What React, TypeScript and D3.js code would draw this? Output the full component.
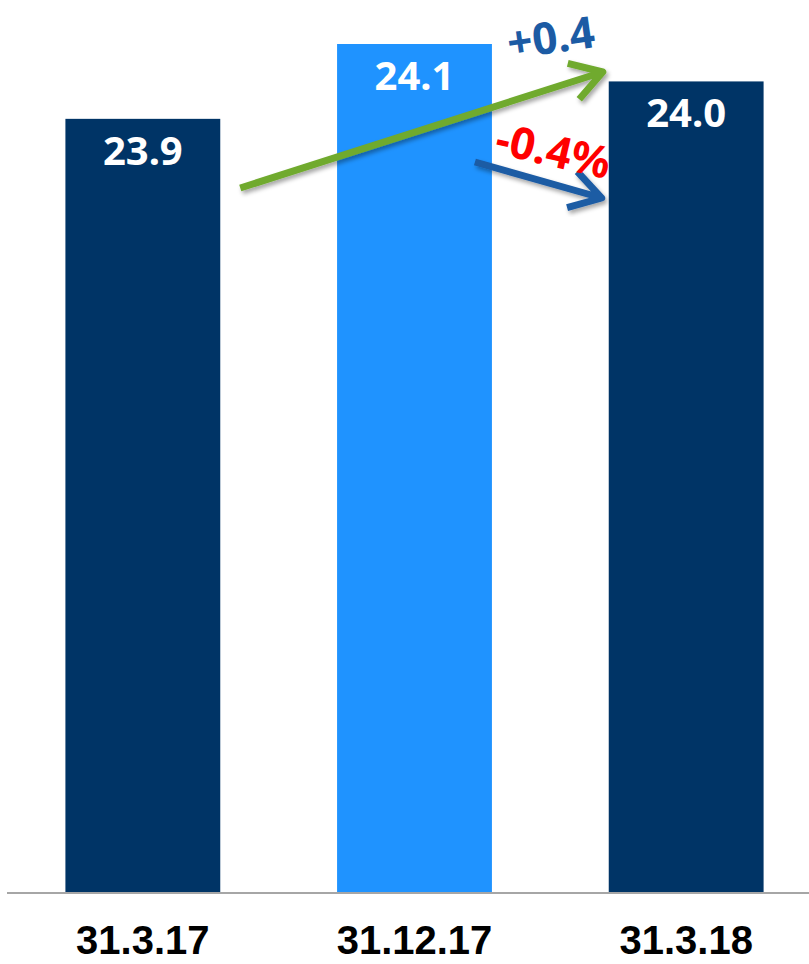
import { useEffect, useRef } from "react";
import * as d3 from "d3";

const categories = ["31.3.17", "31.12.17", "31.3.18"];
const values = [23.9, 24.1, 24.0];
const valueLabels = ["23.9", "24.1", "24.0"];
const barColors = ["#003466", "#1F93FF", "#003466"];

export default function App() {
  const svgRef = useRef<SVGSVGElement>(null);

  useEffect(() => {
    if (!svgRef.current) return;
    const width = 809;
    const height = 964;
    const baseY = 892;

    const svg = d3.select(svgRef.current);
    svg.selectAll("*").remove();
    svg.attr("viewBox", `0 0 ${width} ${height}`);

    const defs = svg.append("defs");
    defs
      .append("filter")
      .attr("id", "shadow")
      .attr("x", "-20%")
      .attr("y", "-20%")
      .attr("width", "140%")
      .attr("height", "140%")
      .append("feDropShadow")
      .attr("dx", 2)
      .attr("dy", 3)
      .attr("stdDeviation", 2)
      .attr("flood-color", "#000")
      .attr("flood-opacity", 0.35);

    const x = d3
      .scaleBand<string>()
      .domain(categories)
      .range([7, 822])
      .paddingInner(0.43)
      .paddingOuter(0.215);

    // truncated value axis (bars don't start at zero)
    const y = d3.scaleLinear().domain([21.834, 24.1]).range([baseY, 44]);

    svg
      .selectAll("rect.bar")
      .data(values)
      .enter()
      .append("rect")
      .attr("class", "bar")
      .attr("x", (_, i) => x(categories[i])!)
      .attr("width", x.bandwidth())
      .attr("y", (d) => y(d))
      .attr("height", (d) => baseY - y(d))
      .attr("fill", (_, i) => barColors[i]);

    svg
      .append("line")
      .attr("x1", 7)
      .attr("x2", width)
      .attr("y1", baseY + 1)
      .attr("y2", baseY + 1)
      .attr("stroke", "#A6A6A6")
      .attr("stroke-width", 2);

    svg
      .selectAll("text.val")
      .data(values)
      .enter()
      .append("text")
      .attr("class", "val")
      .attr("x", (_, i) => x(categories[i])! + x.bandwidth() / 2)
      .attr("y", (d) => y(d) + 46)
      .attr("text-anchor", "middle")
      .attr("fill", "#fff")
      .attr("font-family", "'Noto Sans', 'Open Sans', sans-serif")
      .attr("font-weight", "bold")
      .attr("font-size", 40)
      .text((_, i) => valueLabels[i]);

    svg
      .selectAll("text.cat")
      .data(categories)
      .enter()
      .append("text")
      .attr("class", "cat")
      .attr("x", (d) => x(d)! + x.bandwidth() / 2)
      .attr("y", 954)
      .attr("text-anchor", "middle")
      .attr("fill", "#000")
      .attr("font-family", "'Liberation Sans', Arial, sans-serif")
      .attr("font-weight", "bold")
      .attr("font-size", 40)
      .text((d) => d);

    // annotation arrows
    const arrow = (x1: number, y1: number, x2: number, y2: number, color: string) => {
      const ang = Math.atan2(y2 - y1, x2 - x1);
      const len = 36;
      const spread = 0.55;
      const g = svg.append("g").attr("filter", "url(#shadow)");
      const p = d3.path();
      p.moveTo(x1, y1);
      p.lineTo(x2, y2);
      p.moveTo(x2 - len * Math.cos(ang - spread), y2 - len * Math.sin(ang - spread));
      p.lineTo(x2, y2);
      p.lineTo(x2 - len * Math.cos(ang + spread), y2 - len * Math.sin(ang + spread));
      g.append("path")
        .attr("d", p.toString())
        .attr("fill", "none")
        .attr("stroke", color)
        .attr("stroke-width", 7)
        .attr("stroke-linejoin", "round");
    };

    const x0 = x(categories[0])! + x.bandwidth();
    const x1 = x(categories[1])! + x.bandwidth();
    const x2 = x(categories[2])!;
    arrow(x0 + 20, 188, x2 - 6, 72, "#6FAA2E");
    arrow(x1 - 17, 162, x2 - 7, 198, "#1C5BA4");

    svg
      .append("text")
      .attr("transform", `translate(553,53) rotate(-8)`)
      .attr("text-anchor", "middle")
      .attr("fill", "#1C5BA4")
      .attr("font-family", "'Noto Sans', 'Open Sans', sans-serif")
      .attr("font-weight", "bold")
      .attr("font-size", 44)
      .text("+0.4");

    svg
      .append("text")
      .attr("transform", `translate(550,166) rotate(13)`)
      .attr("text-anchor", "middle")
      .attr("fill", "#FF0000")
      .attr("font-family", "'Noto Sans', 'Open Sans', sans-serif")
      .attr("font-weight", "bold")
      .attr("font-size", 44)
      .text("-0.4%");
  }, []);

  return (
    <svg
      ref={svgRef}
      width={809}
      height={964}
      style={{ position: "absolute", left: 0, top: 0, background: "#fff" }}
    />
  );
}
